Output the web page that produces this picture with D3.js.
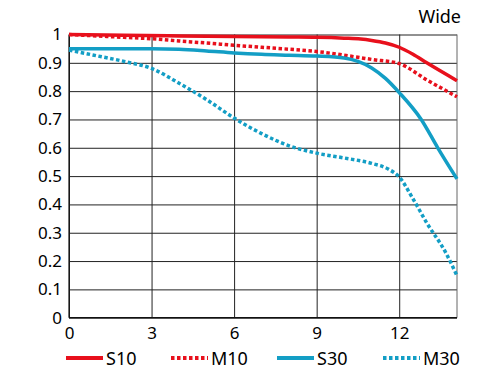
<!DOCTYPE html>
<html>
<head>
<meta charset="utf-8">
<script src="https://cdn.jsdelivr.net/npm/d3@7"></script>
<style>
  body { margin: 0; background: #fff; }
  svg text { font-family: "Noto Sans", "Open Sans", sans-serif; fill: #000; }
</style>
</head>
<body>
<div id="chart"></div>
<script>
// image height (mm) and MTF values
var xTicks = [0, 3, 6, 9, 12];
var yTicks = [0, 0.1, 0.2, 0.3, 0.4, 0.5, 0.6, 0.7, 0.8, 0.9, 1];
var xMax = 14.1;

var s10 = [[0,1],[2,0.997],[4,0.995],[6,0.993],[8,0.991],[9,0.99],[10,0.987],[10.6,0.984],[11,0.979],[11.5,0.97],[12,0.955],[12.5,0.93],[13,0.9],[14.1,0.837]];
var m10 = [[0,1],[1,0.995],[2,0.99],[3,0.985],[4,0.977],[5,0.97],[6,0.962],[7,0.955],[8,0.948],[9,0.94],[10,0.927],[10.6,0.918],[11,0.912],[12,0.897],[13,0.84],[14.1,0.78]];
var s30 = [[0,0.95],[1,0.95],[2,0.95],[3,0.95],[4,0.948],[5,0.942],[6,0.935],[7,0.93],[8,0.927],[9,0.924],[10,0.917],[10.5,0.905],[11,0.882],[11.5,0.845],[12,0.795],[12.8,0.7],[13.4,0.6],[14.1,0.49]];
var m30 = [[0,0.945],[1,0.925],[2,0.905],[3,0.88],[4,0.828],[5,0.77],[6,0.705],[7,0.65],[8,0.607],[9,0.581],[10,0.564],[11,0.545],[11.6,0.525],[12,0.497],[12.5,0.42],[13,0.335],[13.7,0.228],[14.1,0.148]];

var series = [
  {name: 'S10', data: s10, color: '#e8101c', dash: null},
  {name: 'M10', data: m10, color: '#e8101c', dash: '3.5,2.5'},
  {name: 'S30', data: s30, color: '#139ec5', dash: null},
  {name: 'M30', data: m30, color: '#139ec5', dash: '3.5,2.5'}
];

var W = 500, H = 375;
var x = d3.scaleLinear().domain([0, xMax]).range([69, 457]);
var y = d3.scaleLinear().domain([0, 1]).range([317.7, 34.5]);

var svg = d3.select('#chart').append('svg').attr('width', W).attr('height', H);

// gridlines + y labels
var yAxis = d3.axisLeft(y).tickValues(yTicks).tickFormat(d3.format('~g'))
  .tickSizeInner(-(x.range()[1] - x.range()[0])).tickSizeOuter(0).tickPadding(7);
var gy = svg.append('g').attr('transform', 'translate(' + x.range()[0] + ',0)').call(yAxis);
gy.select('.domain').remove();
gy.selectAll('.tick line').attr('stroke', '#222').attr('stroke-width', 1);
gy.selectAll('.tick text').style('font-size', '17px').attr('fill', '#000');

var xAxis = d3.axisBottom(x).tickValues(xTicks)
  .tickSizeInner(-(y.range()[0] - y.range()[1])).tickSizeOuter(0).tickPadding(9);
var gx = svg.append('g').attr('transform', 'translate(0,' + y.range()[0] + ')').call(xAxis);
gx.select('.domain').remove();
gx.selectAll('.tick line').attr('stroke', '#222').attr('stroke-width', 1);
gx.selectAll('.tick text').style('font-size', '17px').attr('fill', '#000');

// right border
svg.append('line').attr('x1', x(xMax)).attr('x2', x(xMax)).attr('y1', y(1)).attr('y2', y(0))
  .attr('stroke', '#666').attr('stroke-width', 1);
// axis lines
svg.append('line').attr('x1', x(0)).attr('x2', x(0)).attr('y1', y(1)).attr('y2', y(0)).attr('stroke', '#111').attr('stroke-width', 1.2);
svg.append('line').attr('x1', x(0)).attr('x2', x(xMax)).attr('y1', y(0)).attr('y2', y(0)).attr('stroke', '#111').attr('stroke-width', 1.2);

var line = d3.line().x(function(d) { return x(d[0]); }).y(function(d) { return y(d[1]); }).curve(d3.curveMonotoneX);

series.forEach(function(s) {
  svg.append('path').datum(s.data).attr('d', line)
    .attr('fill', 'none').attr('stroke', s.color).attr('stroke-width', 3.5)
    .attr('stroke-dasharray', s.dash);
});

// title
svg.append('text').attr('x', 461).attr('y', 23).attr('text-anchor', 'end')
  .style('font-size', '18px').text('Wide');

// legend
var legX = [66, 171, 277, 383];
var leg = svg.selectAll('.leg').data(series).enter().append('g').attr('class', 'leg')
  .attr('transform', function(d, i) { return 'translate(' + legX[i] + ',358)'; });
leg.append('line').attr('x1', 0).attr('x2', 37).attr('y1', 0).attr('y2', 0)
  .attr('stroke', function(d) { return d.color; }).attr('stroke-width', 4)
  .attr('stroke-dasharray', function(d) { return d.dash; });
leg.append('text').attr('x', 40).attr('y', 7).style('font-size', '18px')
  .text(function(d) { return d.name; });
</script>
</body>
</html>
